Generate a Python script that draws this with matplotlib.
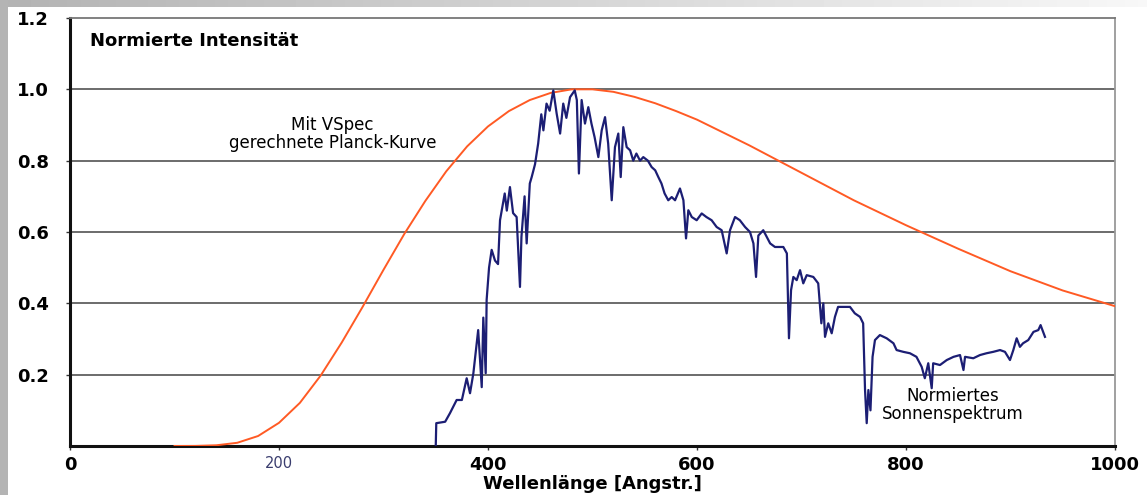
import numpy as np
import matplotlib
matplotlib.use("Agg")
import matplotlib.pyplot as plt

# === Data ===
planck_wl = [100, 120, 140, 160, 180, 200, 220, 240, 260, 280, 300, 320, 340, 360,
             380, 400, 420, 440, 460, 480, 500, 520, 540, 560, 580, 600, 650, 700,
             750, 800, 850, 900, 950, 1000]
planck_val = [0.0, 0.0002, 0.002, 0.009, 0.028, 0.065, 0.121, 0.198, 0.290, 0.390,
              0.494, 0.595, 0.687, 0.770, 0.840, 0.896, 0.939, 0.970, 0.990, 1.0,
              1.0, 0.993, 0.979, 0.961, 0.939, 0.915, 0.843, 0.766, 0.689, 0.619,
              0.553, 0.490, 0.436, 0.392]

sun_wl = [350, 350.5, 359, 363.6, 370, 375, 379.6, 382.8, 386, 390.6, 394, 395.5, 397.8,
          398.7, 401, 403.5, 406.7, 409.6, 411.5, 416, 418, 421, 424, 427.4, 430.6, 432,
          435, 437, 440, 441.8, 445, 448, 451, 453, 456, 459, 462.5, 465.7, 469, 472,
          475, 478.5, 483, 485, 487, 489.6, 492.8, 496, 499, 502, 505.6, 508.8, 512,
          515, 518.4, 521.5, 524.7, 527, 529.5, 532.7, 536, 539, 542, 545.5, 548.6,
          553, 556.6, 560, 563, 566, 569, 572.5, 575.8, 579, 583.7, 587, 589.5, 591.7,
          595, 599.7, 604.5, 609, 614, 618.8, 623.6, 628.4, 631.6, 636.4, 641, 646,
          650.7, 654, 656.5, 658.7, 663.4, 670, 674.6, 682.6, 686, 688, 690, 692.2,
          695.4, 698.6, 701.7, 705, 711.3, 716, 719, 720.9, 722.5, 725.6, 728.9, 732,
          735, 740, 746.4, 751, 756, 759, 760.8, 762.4, 764, 766, 768, 770.3, 775,
          781.5, 788, 791, 797.4, 803.8, 810, 815, 818, 821.3, 824.6, 826, 832.5, 839,
          845.5, 851.7, 855, 856.5, 864.4, 870.8, 877, 883.5, 890, 894.7, 899.5, 902.7,
          905.9, 909, 912, 917, 922, 926.6, 928.8, 933]
sun_val = [0.0, 0.064, 0.068, 0.092, 0.129, 0.129, 0.19, 0.148, 0.204, 0.325, 0.165, 0.36,
           0.204, 0.41, 0.50, 0.55, 0.52, 0.51, 0.633, 0.708, 0.66, 0.726, 0.653, 0.642,
           0.446, 0.586, 0.70, 0.568, 0.736, 0.754, 0.79, 0.848, 0.93, 0.885, 0.96, 0.94,
           0.997, 0.932, 0.876, 0.96, 0.92, 0.978, 0.997, 0.97, 0.764, 0.97, 0.904, 0.95,
           0.904, 0.866, 0.81, 0.885, 0.922, 0.848, 0.689, 0.838, 0.876, 0.754, 0.894,
           0.838, 0.829, 0.80, 0.82, 0.80, 0.81, 0.80, 0.782, 0.773, 0.754, 0.736, 0.708,
           0.689, 0.698, 0.689, 0.722, 0.689, 0.582, 0.661, 0.642, 0.633, 0.652, 0.642,
           0.633, 0.614, 0.605, 0.54, 0.605, 0.642, 0.633, 0.614, 0.60, 0.568, 0.474,
           0.59, 0.605, 0.568, 0.558, 0.558, 0.54, 0.302, 0.437, 0.474, 0.465, 0.493,
           0.456, 0.479, 0.474, 0.456, 0.344, 0.40, 0.306, 0.344, 0.316, 0.362, 0.39,
           0.39, 0.39, 0.372, 0.362, 0.344, 0.157, 0.064, 0.157, 0.10, 0.25, 0.297,
           0.311, 0.302, 0.288, 0.269, 0.264, 0.26, 0.25, 0.222, 0.19, 0.232, 0.162,
           0.232, 0.227, 0.241, 0.25, 0.255, 0.213, 0.25, 0.246, 0.255, 0.26, 0.264,
           0.269, 0.264, 0.241, 0.269, 0.302, 0.278, 0.288, 0.297, 0.32, 0.325, 0.339,
           0.306]

x_ticks = [0, 200, 400, 600, 800, 1000]
y_ticks = [0.2, 0.4, 0.6, 0.8, 1.0, 1.2]
y_labels = ["0.2", "0.4", "0.6", "0.8", "1.0", "1.2"]

# === Figure ===
fig = plt.figure(figsize=(11.47, 4.95), dpi=100)
fig.patch.set_facecolor("white")

# gray frame (left strip + top gradient)
top = fig.add_axes([0, 1 - 7 / 495, 1, 7 / 495])
top.imshow(np.linspace(0.70, 0.97, 256)[None, :], cmap="gray", vmin=0, vmax=1,
           aspect="auto", extent=[0, 1, 0, 1])
top.axis("off")
left = fig.add_axes([0, 0, 8 / 1147, 1])
left.set_facecolor("#b4b4b4")
left.set_xticks([])
left.set_yticks([])
for s in left.spines.values():
    s.set_visible(False)

ax = fig.add_axes([70 / 1147, 1 - 446 / 495, 1045 / 1147, 428 / 495])

# === Curves ===
ax.plot(planck_wl, planck_val, color="#ff5a24", lw=1.4, zorder=3)
ax.plot(sun_wl, sun_val, color="#1c1e74", lw=1.6, zorder=4)

ax.set_xlim(0, 1000)
ax.set_ylim(0, 1.2)

# === Grid / spines ===
for yv in y_ticks[:-1]:
    ax.axhline(yv, color="#444444", lw=1.1, zorder=1)
ax.spines["left"].set_linewidth(2.2)
ax.spines["left"].set_color("#111111")
ax.spines["bottom"].set_linewidth(2.2)
ax.spines["bottom"].set_color("#111111")
ax.spines["top"].set_color("#777777")
ax.spines["top"].set_linewidth(1.3)
ax.spines["right"].set_color("#999999")
ax.spines["right"].set_linewidth(1.3)

# === Ticks ===
ax.set_xticks(x_ticks)
ax.set_xticklabels([str(v) for v in x_ticks], fontsize=13, fontweight="bold")
lab200 = ax.get_xticklabels()[1]
lab200.set_fontweight("normal")
lab200.set_fontsize(10.5)
lab200.set_color("#3a3d6e")
ax.set_yticks(y_ticks)
ax.set_yticklabels(y_labels, fontsize=13, fontweight="bold")
ax.tick_params(axis="x", length=3, width=1, pad=4, color="#333333")
ax.tick_params(axis="y", length=3, width=1, pad=12, color="#333333")

ax.set_xlabel("Wellenlänge [Angstr.]", fontsize=13, fontweight="bold", labelpad=1)

# === Annotations ===
ax.text(0.019, 0.946, "Normierte Intensität", transform=ax.transAxes,
        fontsize=13, fontweight="bold", va="center", ha="left")
ax.text(251, 0.874, "Mit VSpec\ngerechnete Planck-Kurve", fontsize=12,
        ha="center", va="center", linespacing=1.0)
ax.text(845, 0.115, "Normiertes\nSonnenspektrum", fontsize=12,
        ha="center", va="center", linespacing=1.0)

fig.savefig("out.png", dpi=100)
